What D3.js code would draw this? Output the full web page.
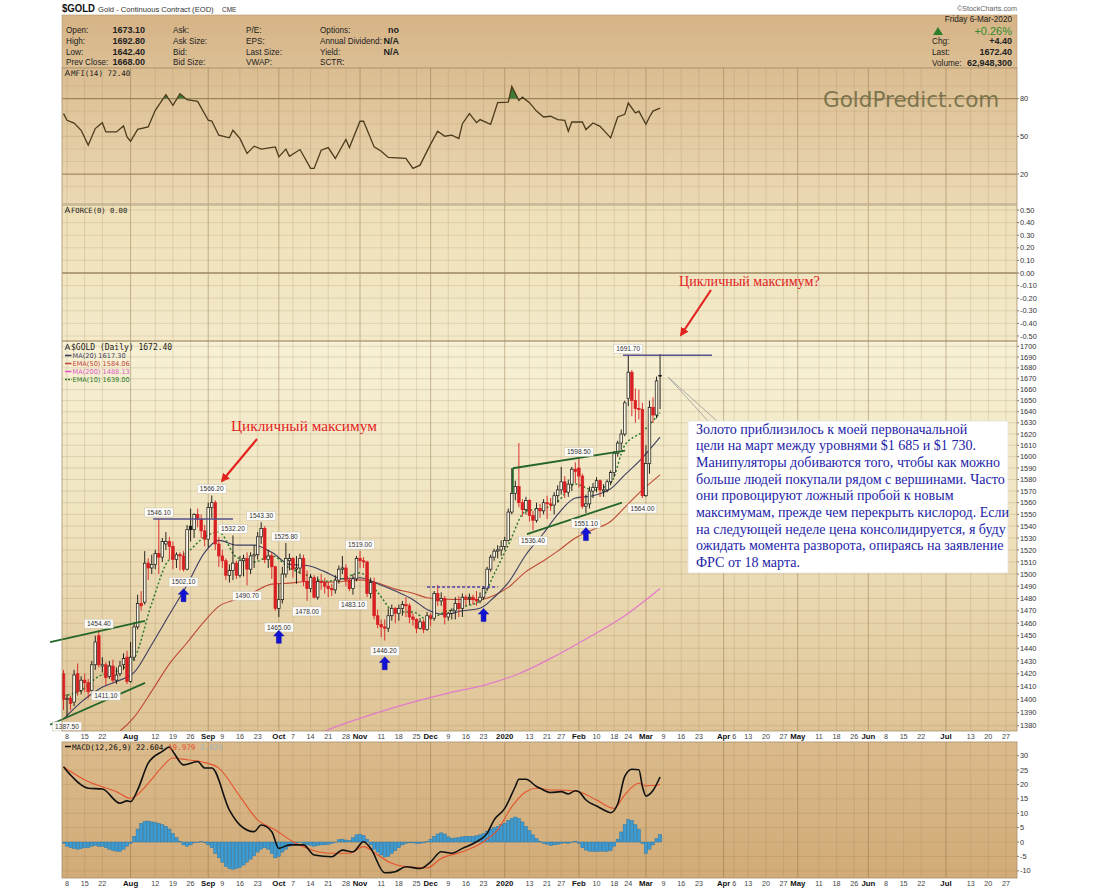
<!DOCTYPE html>
<html><head><meta charset="utf-8">
<script src="https://cdn.jsdelivr.net/npm/d3@7/dist/d3.min.js"></script>
<style>
html,body{margin:0;padding:0;background:#fff;}
svg{display:block;}
</style></head><body>
<svg id="chart" width="1100" height="890" font-family="Liberation Sans, Arial, sans-serif"></svg>
<script>
// ================= DATA =================
const holidays = ["2019-07-04","2019-09-02","2019-11-28","2019-12-25","2020-01-01","2020-01-20","2020-02-17","2020-04-10","2020-05-25","2020-07-03"];
const firstDay = "2019-07-05", lastAxisDay = "2020-07-31", axisEndDay = "2020-07-27";

const opens = [1420,1400,1401,1398,1420,1407,1415,1413,1407,1427,
 1450,1426,1427,1418,1426,1415,1420,1427,1433,1414,
 1433,1457,1476,1477,1509,1505,1508,1517,1514,1525,
 1527,1523,1512,1516,1515,1504,1540,1537,1550,1546,
 1536,1529,1556,1560,1525,1515,1511,1499,1503,1509,
 1499,1511,1513,1504,1515,1516,1531,1538,1512,1515,
 1506,1472,1479,1500,1511,1513,1504,1505,1513,1494,
 1488,1497,1481,1494,1493,1490,1488,1487,1495,1504,
 1505,1495,1488,1496,1513,1511,1510,1484,1493,1466,
 1459,1457,1456,1466,1472,1468,1472,1475,1474,1465,
 1463,1456,1461,1455,1466,1464,1484,1478,1480,1465,
 1468,1470,1476,1472,1481,1480,1481,1479,1478,1481,
 1488,1504,1514,1519,1520,1523,1528,1552,1568,1574,
 1560,1554,1562,1549,1545,1555,1553,1560,1559,1558,
 1566,1571,1578,1569,1576,1589,1590,1583,1557,1559,
 1570,1573,1579,1570,1571,1578,1586,1603,1612,1620,
 1652,1676,1650,1643,1642,1566,1594,1644,1637,1673.1];
const highs = [1423,1404,1403,1423,1428,1418,1420,1416,1430,1450,
 1454.4,1433,1429,1430,1431,1425,1430,1436,1438,1445,
 1461,1483,1486,1519,1513,1516,1520,1546.1,1530,1535,
 1531,1527,1518,1518,1519,1541,1555,1551,1555,1550,
 1541,1560,1566.2,1562,1531,1520,1513,1508,1532.2,1511,
 1515,1516,1518,1518,1524,1535,1543.3,1540,1520,1518,
 1507,1492,1506,1525.8,1517,1514,1515,1517,1516,1503,
 1500,1499,1498,1500,1497,1494,1492,1499,1507,1515,
 1508,1497,1500,1515,1519,1514,1511,1497,1497,1471,
 1463,1463,1472,1475,1473,1475,1478,1481,1476,1468,
 1464,1464,1463,1469,1468,1486,1491,1485,1482,1469,
 1472,1481,1482,1484,1483,1484,1483,1486,1485,1490,
 1506,1516,1521,1524,1528,1531,1555,1590,1579,1612,
 1563,1565,1563,1553,1560,1559,1563,1566,1564,1569,
 1575,1591,1583,1580,1591,1595,1598.5,1585,1567,1574,
 1577,1582,1580,1576,1580,1588,1605,1614,1624,1650,
 1691.7,1678,1661,1660,1648,1610,1650,1653,1672,1692.8];
const lows = [1392,1387.5,1392,1395,1403,1404,1406,1401,1405,1423,
 1425,1421,1411.1,1416,1413,1412,1418,1423,1412,1413,
 1430,1455,1470,1475,1495,1500,1504,1500,1510,1520,
 1512,1504,1505,1503,1502.1,1503,1527,1530,1539,1530,
 1523,1522,1547,1520,1506,1505,1495,1493,1495,1496,
 1497,1498,1490.7,1500,1505,1512,1525,1509,1505,1496,
 1470,1465,1476,1497,1503,1497,1492,1500,1490,1478,
 1485,1480,1479,1487,1484,1481,1482,1484,1492,1500,
 1490,1486,1483.1,1494,1505,1505,1481,1480,1463,1456,
 1449,1446.2,1453,1462,1460,1462,1466,1465,1460,1458,
 1452,1455,1452,1454,1458,1462,1474,1474,1459,1462,
 1463,1463,1465,1465,1474,1475,1475,1474,1476,1479,
 1486,1502,1511,1513,1515,1520,1527,1550,1562,1556,
 1548,1550,1544,1536.4,1543,1547,1550,1546,1553,1550,
 1560,1567,1564,1565,1570,1577,1573,1555,1551.1,1555,
 1564,1569,1565,1565,1569,1575,1582,1600,1606,1618,
 1645,1636,1630,1633,1564,1565,1585,1630,1634,1642.4];
const closes = [1400,1401,1397,1419,1406,1415,1413,1406,1427,1445,
 1427,1427,1417,1426,1415,1419,1426,1432,1414,1433,
 1457,1476,1474,1509,1505,1508,1517,1514,1527,1527,
 1523,1512,1516,1515,1504,1537,1537,1550,1546,1536,
 1529,1556,1560,1525,1515,1511,1499,1503,1509,1499,
 1511,1513,1504,1515,1516,1531,1538,1512,1515,1506,
 1472,1479,1500,1513,1513,1504,1505,1513,1494,1488,
 1497,1481,1494,1493,1490,1488,1487,1495,1504,1505,
 1495,1488,1496,1513,1511,1510,1484,1493,1466,1459,
 1457,1456,1466,1472,1468,1472,1475,1474,1465,1463,
 1456,1461,1455,1466,1464,1484,1478,1480,1465,1468,
 1470,1476,1472,1481,1480,1481,1479,1478,1481,1488,
 1504,1514,1519,1520,1523,1528,1552,1568,1574,1560,
 1554,1562,1549,1545,1555,1553,1560,1559,1558,1566,
 1571,1578,1569,1576,1589,1587,1583,1557,1559,1570,
 1573,1579,1571,1571,1578,1586,1603,1612,1620,1648,
 1676,1650,1643,1642,1566,1594,1644,1637,1668,1672.4];

// moving averages (weekly readings)
const maDates = ["2019-07-05","2019-07-12","2019-07-19","2019-07-26","2019-08-02","2019-08-09","2019-08-16","2019-08-23","2019-08-30","2019-09-06","2019-09-13","2019-09-20","2019-09-27","2019-10-04","2019-10-11","2019-10-18","2019-10-25","2019-11-01","2019-11-08","2019-11-15","2019-11-22","2019-11-29","2019-12-06","2019-12-13","2019-12-20","2019-12-27","2020-01-03","2020-01-10","2020-01-17","2020-01-24","2020-01-31","2020-02-07","2020-02-14","2020-02-21","2020-02-28","2020-03-06"];
const ma20 = [1385,1398,1408,1414,1421,1443,1467,1491,1518,1528,1524,1524,1518,1508,1507,1502,1496,1497,1492,1486,1479,1471,1467,1470,1472,1481,1493,1516,1534,1550,1564,1566,1572,1584,1599,1617.3];
const ema50 = [1353,1361,1368,1374,1386.5,1406.5,1427.7,1444.4,1461.9,1473.6,1479.3,1485.3,1491.7,1492.5,1493.9,1493.3,1493.8,1495.2,1492.7,1487.6,1484.3,1480.6,1479.4,1479.2,1479.2,1482.5,1489,1502,1511,1519,1530,1537,1544,1556,1571,1584.06];
const ema10 = [1403,1407,1418,1422,1432,1476,1512,1518,1531,1535,1514,1510,1515,1505,1499,1494,1496,1501,1485,1469,1469,1463,1469,1473,1478,1500,1524,1553,1555,1561,1576,1571,1577,1610,1622,1639];
const ma200Dates = ["2019-10-10","2019-10-24","2019-11-08","2019-11-22","2019-12-09","2019-12-23","2020-01-08","2020-01-22","2020-02-06","2020-02-21","2020-03-06"];
const ma200 = [1369,1380,1390,1398,1405,1411,1420,1432,1449,1466,1488.13];

// MFI(14) readings (trading-day number from first bar, value)
const mfiDays = [0,1,3,5,7,9,11,12,15,17,18,19,21,24,26,29,31,33,35,38,41,42,44,47,48,50,52,54,56,60,61,63,64,67,70,71,73,75,77,80,81,84,85,88,90,92,97,99,101,104,106,108,110,112,113,115,117,118,121,123,126,127,129,130,132,134,136,138,140,142,143,144,147,148,150,152,155,157,159,160,162,163,165,166,167,169];
const mfiValues = [68.1,62.8,60.6,54.8,43,56.2,60.9,53.5,53.5,58.3,49.6,46.1,55.6,57.5,70.7,83.1,74.7,83.9,79.2,77.8,62.8,62.2,50.9,48.8,54.8,48.2,36.4,42.2,39.8,41.6,33.7,39.8,34.2,39.5,24.5,24.5,39,41.1,32.4,47.5,41.1,62,62,41.6,38.2,33.2,32.4,24.5,27.1,43.8,54.1,50.1,50.9,48.2,60.1,68.1,60.9,63.3,59.6,76.8,77.3,89.7,78.6,81.2,76.8,70.1,65.4,66,63.3,62.8,54.1,61.4,61.4,55.4,60.6,58,48.8,65.4,67.5,76.5,68.6,70.1,59.6,65.4,70.1,72.4];

// MACD(12,26,9)
const macdDays = [0,2,7,11,16,18,19,21,24,28,30,31,34,38,40,42,47,50,54,56,59,61,64,68,71,76,79,82,85,87,91,94,97,101,104,107,110,113,117,120,122,125,128,129,131,134,135,138,141,143,145,146,148,151,154,155,157,159,161,163,164,165,167,169];
const macdValues = [26.2,23.3,18.7,18.4,13.5,14.3,14.0,18.1,27.4,31.5,33,31.5,26.8,28,25.7,25.7,11.1,5.9,3.6,5.9,3.6,-2.2,-1,-1,-4.5,-5.1,-2.8,-3.4,0.1,-2.2,-10.7,-10.3,-8.6,-9.2,-6.9,-3.4,-3.9,-2.2,0.1,3,7.7,11.7,19.3,21.8,21.8,19.3,18.7,17.2,17.5,16.7,17.8,17.5,14.6,12.5,10.6,10.2,13.2,22.8,25.3,25.1,19.3,16,17.9,22.6];
const signalDays = [0,7,15,19,24,28,31,35,40,44,50,55,60,65,69,75,81,85,89,93,97,103,107,113,119,123,127,131,134,138,141,146,151,156,159,163,165,169];
const signalValues = [26.1,21,17.5,15.2,20.4,26.2,29.2,28.6,27.6,25.7,15.8,7.7,4.2,0.1,-2.2,-3.9,-3.9,-1.6,-4.5,-7.4,-8.6,-9,-5.7,-3.4,0.1,4.2,12.3,17.5,18.7,18.1,18.1,17.5,14.6,11.7,16.4,20.4,19.5,20.0];
const histValues = [-0.5,-1.5,-2,-2.3,-2.5,-2.3,-2,-2,-1.5,-1.2,
 -1.5,-1.5,-2,-2.5,-3,-3.2,-3.3,-2.5,-1.5,-0.5,
 2,4.5,6.5,7.2,7.3,7,6.8,6.5,6,5.5,
 4.5,3,1.5,0.3,-1,-1.5,-1,-0.3,0,0.2,
 -0.3,-1,-2,-4,-5.5,-7,-8.5,-9.3,-9.5,-9.2,
 -8.8,-8,-7,-6,-4.8,-3.5,-2.5,-2,-2.5,-4,
 -5.5,-5,-3.5,-2.5,-1.5,-1,-0.5,0,-0.5,-1,
 -1.2,-1.5,-1.2,-1,-1,-0.8,-0.5,0,0.8,1,
 0.7,0.5,1.5,2.5,2.7,2.3,1,-1,-2.5,-3.5,
 -4.5,-5.2,-5,-4,-3,-2,-1,-0.5,-0.3,-0.3,
 -0.5,-0.5,-0.3,0.2,1,2,2.8,3.2,2.8,1.8,
 1.3,1.4,1.5,1.8,2,2,2,2.2,2.5,3,
 3.8,4.5,5,5.5,6,6.5,7.5,8.2,8.7,8.2,
 7,5.5,4,2.5,1.2,0.3,-0.5,-0.8,-1.2,-1,
 -0.8,-0.5,-0.3,-0.5,0,0.3,-0.5,-2,-2.8,-3.2,
 -3.3,-3.3,-3.2,-3.2,-3.3,-3,-1.5,1,3.5,6,
 7.8,7.5,6,4.5,-0.5,-4,-2.5,-1,1.2,2.6];

// axis ticks
const tickDates = ["2019-07-08","2019-07-15","2019-07-22","2019-08-01","2019-08-12","2019-08-19","2019-08-26","2019-09-03","2019-09-09","2019-09-16","2019-09-23","2019-10-01","2019-10-07","2019-10-14","2019-10-21","2019-10-28","2019-11-01","2019-11-11","2019-11-18","2019-11-25","2019-12-02","2019-12-09","2019-12-16","2019-12-23","2020-01-02","2020-01-13","2020-01-21","2020-01-27","2020-02-03","2020-02-10","2020-02-18","2020-02-24","2020-03-02","2020-03-09","2020-03-16","2020-03-23","2020-04-01","2020-04-06","2020-04-13","2020-04-20","2020-04-27","2020-05-01","2020-05-11","2020-05-18","2020-05-26","2020-06-01","2020-06-08","2020-06-15","2020-06-22","2020-07-01","2020-07-13","2020-07-20","2020-07-27"];
const tickTexts = ["8","15","22","Aug","12","19","26","Sep","9","16","23","Oct","7","14","21","28","Nov","11","18","25","Dec","9","16","23","2020","13","21","27","Feb","10","18","24","Mar","9","16","23","Apr","6","13","20","27","May","11","18","26","Jun","8","15","22","Jul","13","20","27"];
const priceTicks = d3.range(1380, 1701, 10);
const mfiTicks = [80, 50, 20];
const forceTicks = [0.5,0.4,0.3,0.2,0.1,0,-0.1,-0.2,-0.3,-0.4,-0.5];
const macdTicks = [30,25,20,15,10,5,0,-5,-10];

// annotations
const priceLabelDays = [1,12,10,34,27,42,48,56,52,63,61,69,82,84,91,133,146,148,164,160];
const priceLabelValues = [1387.5,1411.1,1454.4,1502.1,1546.1,1566.2,1532.2,1543.3,1490.7,1525.8,1465,1478,1483.1,1519,1446.2,1536.4,1598.5,1551.1,1564,1691.7];
const priceLabelSide = ["below","below","above","below","above","above","above","above","below","above","below","below","below","above","below","below","above","below","below","above"];
const arrowDays = [34,61,91,119,148];
const arrowPrices = [1482.7,1449.2,1428.2,1466.7,1533.3];
// trend lines: [day1, price1, day2, price2]
const greenLines = [[-3.8,1444.9,23.1,1461.8],[-3.8,1380.7,23.1,1412.9],[127.3,1589.8,159.1,1605.2],[127.3,1589.8,127.3,1568.4],[131.3,1533.3,158.2,1560]];
const navyLines = [[25.4,1546.1,48,1546.1],[158.5,1691.7,183.7,1691.7]];
const navyDashed = [[103,1489.3,123,1489.3]];

const headerRows = [["Open:","1673.10","Ask:","P/E:","Options:","no"],["High:","1692.80","Ask Size:","EPS:","Annual Dividend:","N/A"],["Low:","1642.40","Bid:","Last Size:","Yield:","N/A"],["Prev Close:","1668.00","Bid Size:","VWAP:","SCTR:",""]];
const noteLines = ["Золото приблизилось к моей первоначальной","цели на март между уровнями $1 685 и $1 730.","Манипуляторы добиваются того, чтобы как можно","больше людей покупали рядом с вершинами. Часто","они провоцируют ложный пробой к новым","максимумам, прежде чем перекрыть кислород. Если","на следующей неделе цена консолидируется, я буду","ожидать момента разворота, опираясь на заявление","ФРС от 18 марта."];

// ================= CHART =================
const SERIF = "Liberation Serif, 'Times New Roman', serif";
const MONO = "DejaVu Sans Mono, monospace";
const svg = d3.select("#chart");
const PL = 62, PR = 1017;
const P = {mfi:[68,204], force:[205,341], main:[341,731], macd:[742,878]};

// trading calendar
const hol = new Set(holidays);
const days = [];
for (let d = new Date(firstDay+"T00:00:00Z"); d <= new Date(lastAxisDay+"T00:00:00Z"); d.setUTCDate(d.getUTCDate()+1)) {
  const wd = d.getUTCDay(), s = d.toISOString().slice(0,10);
  if (wd===0 || wd===6 || hol.has(s)) continue;
  days.push(s);
}
const dayIndex = new Map(days.map((s,i)=>[s,i]));
const x = d3.scaleLinear().domain([0, dayIndex.get(axisEndDay)]).range([63.5, 1006]);
const y = d3.scaleLog().domain([1376, 1705]).range([P.main[1], P.main[0]]);
const yM = d3.scaleLinear().domain([0,100]).range([199.2, 73.5]);
const yF = d3.scaleLinear().domain([-0.5,0.5]).range([336, 210]);
const yD = d3.scaleLinear().domain([-10,30]).range([870.8, 755.7]);

const defs = svg.append("defs");
function grad(id, stops){
  const g = defs.append("linearGradient").attr("id",id).attr("x1",0).attr("y1",0).attr("x2",0).attr("y2",1);
  stops.forEach(([o,c])=>g.append("stop").attr("offset",o).attr("stop-color",c));
}
grad("gHeader",[[0,"#d5b385"],[1,"#dcbf95"]]);
grad("gMfi",[[0,"#dbbd91"],[1,"#ebd9b4"]]);
grad("gForce",[[0,"#eee0b8"],[1,"#f4eaca"]]);
grad("gMain",[[0,"#f7f1d5"],[0.45,"#f0e4c0"],[1,"#dec395"]]);
grad("gMacd",[[0,"#dbbb8c"],[1,"#d1ab78"]]);
Object.entries(P).forEach(([k,[t,b]])=>{
  defs.append("clipPath").attr("id","clip_"+k).append("rect").attr("x",PL).attr("y",t).attr("width",PR-PL).attr("height",b-t);
});
const mk = defs.append("marker").attr("id","redArrow").attr("viewBox","0 0 10 10").attr("refX",8).attr("refY",5)
  .attr("markerWidth",4).attr("markerHeight",4).attr("orient","auto");
mk.append("path").attr("d","M0,0 L10,5 L0,10 z").attr("fill","#e3231f");

// ---- titles / header ----
svg.append("text").attr("x",62).attr("y",12).attr("font-size",10.5).attr("font-weight","bold").attr("fill","#111")
  .attr("textLength",33).attr("lengthAdjust","spacingAndGlyphs").text("$GOLD");
svg.append("text").attr("x",98).attr("y",12).attr("font-size",7.6).attr("fill","#333").text("Gold - Continuous Contract (EOD)");
svg.append("text").attr("x",222).attr("y",12).attr("font-size",6.5).attr("fill","#333").text("CME");
svg.append("text").attr("x",1017).attr("y",11).attr("text-anchor","end").attr("font-size",7.2).attr("fill","#666").text("©StockCharts.com");

svg.append("rect").attr("x",PL).attr("y",15).attr("width",PR-PL).attr("height",53).attr("fill","url(#gHeader)").attr("stroke","#b59a72").attr("stroke-width",0.6);
const hy = [33,43.7,54.7,65.2];
headerRows.forEach((r,i)=>{
  const t = (xx,s,o={})=>svg.append("text").attr("x",xx).attr("y",hy[i]).attr("font-size",o.fs||8.2).attr("font-weight",o.b?"bold":"normal").attr("text-anchor",o.a||"start").attr("fill","#222").text(s);
  t(66,r[0]); t(145,r[1],{b:true,fs:9,a:"end"}); t(173,r[2]); t(246,r[3]); t(320,r[4]); t(399,r[5],{b:true,fs:9,a:"end"});
});
svg.append("text").attr("x",1012).attr("y",21.5).attr("text-anchor","end").attr("font-size",8.2).attr("fill","#222").text("Friday  6-Mar-2020");
svg.append("path").attr("d","M933,35 L938,27 L943,35 Z").attr("fill","#2e7d2e");
svg.append("text").attr("x",1012).attr("y",35).attr("text-anchor","end").attr("font-size",11).attr("fill","#2f8a2f").text("+0.26%");
[["Chg:","+4.40",44],["Last:","1672.40",55],["Volume:","62,948,300",65.5]].forEach(([a,b,yy])=>{
  svg.append("text").attr("x",932).attr("y",yy).attr("font-size",8.2).attr("fill","#222").text(a);
  svg.append("text").attr("x",1012).attr("y",yy).attr("text-anchor","end").attr("font-size",9).attr("font-weight","bold").attr("fill","#222").text(b);
});

// ---- panel backgrounds ----
svg.append("rect").attr("x",PL).attr("y",P.mfi[0]).attr("width",PR-PL).attr("height",P.mfi[1]-P.mfi[0]).attr("fill","url(#gMfi)");
svg.append("rect").attr("x",PL).attr("y",P.force[0]).attr("width",PR-PL).attr("height",P.force[1]-P.force[0]).attr("fill","url(#gForce)");
svg.append("rect").attr("x",PL).attr("y",P.main[0]).attr("width",PR-PL).attr("height",P.main[1]-P.main[0]).attr("fill","url(#gMain)");
svg.append("rect").attr("x",PL).attr("y",P.macd[0]).attr("width",PR-PL).attr("height",P.macd[1]-P.macd[0]).attr("fill","url(#gMacd)");

// ---- grids ----
const grid = svg.append("g");
const tickIdx = tickDates.map(d=>dayIndex.get(d));
const isMonth = t => isNaN(+t) || t==="2020";
Object.values(P).forEach(([t,b])=>{
  tickIdx.forEach((ti,k)=>{
    grid.append("line").attr("x1",x(ti)).attr("x2",x(ti)).attr("y1",t).attr("y2",b)
      .attr("stroke", isMonth(tickTexts[k]) ? "rgba(130,100,60,0.42)" : "rgba(150,120,80,0.2)").attr("stroke-width",1);
  });
});
priceTicks.forEach(v=>grid.append("line").attr("x1",PL).attr("x2",PR).attr("y1",y(v)).attr("y2",y(v)).attr("stroke","rgba(165,135,90,0.25)"));
[10,30,40,60,70,90].forEach(v=>grid.append("line").attr("x1",PL).attr("x2",PR).attr("y1",yM(v)).attr("y2",yM(v)).attr("stroke","rgba(165,135,90,0.18)"));
[50].forEach(v=>grid.append("line").attr("x1",PL).attr("x2",PR).attr("y1",yM(v)).attr("y2",yM(v)).attr("stroke","rgba(165,135,90,0.3)"));
[80,20].forEach(v=>grid.append("line").attr("x1",PL).attr("x2",PR).attr("y1",yM(v)).attr("y2",yM(v)).attr("stroke","#a7885f").attr("stroke-width",1.3));
forceTicks.forEach(v=>grid.append("line").attr("x1",PL).attr("x2",PR).attr("y1",yF(v)).attr("y2",yF(v)).attr("stroke", v===0?"#9c8660":"rgba(165,135,90,0.22)").attr("stroke-width", v===0?1.3:1));
macdTicks.forEach(v=>grid.append("line").attr("x1",PL).attr("x2",PR).attr("y1",yD(v)).attr("y2",yD(v)).attr("stroke","rgba(150,115,70,0.2)"));

// ---- right axis labels ----
const axisG = svg.append("g").attr("font-size",7.4).attr("fill","#333");
function rlab(yy, s){
  axisG.append("line").attr("x1",PR).attr("x2",PR+2).attr("y1",yy).attr("y2",yy).attr("stroke","#777");
  axisG.append("text").attr("x",PR+3).attr("y",yy).attr("dy","0.35em").text(s);
}
priceTicks.forEach(v=>rlab(y(v), String(v)));
mfiTicks.forEach(v=>rlab(yM(v), String(v)));
forceTicks.forEach(v=>rlab(yF(v), v.toFixed(2)));
macdTicks.forEach(v=>rlab(yD(v), String(v)));

// ---- date labels ----
[[731,742,738.8],[878,890,886]].forEach(([t,b,yy])=>{
  svg.append("rect").attr("x",PL).attr("y",t).attr("width",PR-PL).attr("height",b-t).attr("fill","#fff");
  tickIdx.forEach((ti,k)=>{
    const m = isMonth(tickTexts[k]);
    svg.append("text").attr("x",x(ti)).attr("y",yy).attr("text-anchor","middle")
      .attr("font-size", m?7.8:7.2).attr("font-weight", m?"bold":"normal").attr("fill", m?"#111":"#444").text(tickTexts[k]);
  });
});

// ---- MFI ----
const mfiPts = mfiDays.map((d,i)=>[x(d), yM(mfiValues[i])]);
const mfiG = svg.append("g").attr("clip-path","url(#clip_mfi)");
defs.append("clipPath").attr("id","clipAbove80").append("rect").attr("x",PL).attr("y",P.mfi[0]).attr("width",PR-PL).attr("height",yM(80)-P.mfi[0]);
mfiG.append("path").attr("clip-path","url(#clipAbove80)")
  .attr("d", d3.area().x(p=>p[0]).y0(yM(80)).y1(p=>p[1])(mfiPts)).attr("fill","#3f7a36");
mfiG.append("path").attr("d", d3.line()(mfiPts)).attr("fill","none").attr("stroke","#4a3b1c").attr("stroke-width",1.3);
svg.append("path").attr("d","M65,76 L67.5,70 L70,76 M66,74 L69,74").attr("stroke","#333").attr("fill","none").attr("stroke-width",0.9);
svg.append("text").attr("x",71).attr("y",76).attr("font-family",MONO).attr("font-size",7.6).attr("fill","#222").text("MFI(14) 72.40");
svg.append("text").attr("x",823).attr("y",107).attr("font-family","DejaVu Sans, sans-serif").attr("font-size",21.5).attr("fill","#6f6b44").attr("fill-opacity",0.9).text("GoldPredict.com");

// ---- FORCE ----
svg.append("path").attr("d","M65,213 L67.5,207 L70,213 M66,211 L69,211").attr("stroke","#333").attr("fill","none").attr("stroke-width",0.9);
svg.append("text").attr("x",71).attr("y",213).attr("font-family",MONO).attr("font-size",7.2).attr("fill","#222").text("FORCE(0) 0.00");

// ---- MAIN: moving averages ----
const mainG = svg.append("g").attr("clip-path","url(#clip_main)");
const maX = maDates.map(d=>x(dayIndex.get(d)));
function maLine(vals, color, w, dash, xs){
  mainG.append("path").attr("d", d3.line().curve(d3.curveMonotoneX)(vals.map((v,i)=>[xs[i], y(v)])))
    .attr("fill","none").attr("stroke",color).attr("stroke-width",w).attr("stroke-dasharray",dash||null);
}
maLine(ma200, "#e27bc9", 1.3, null, ma200Dates.map(d=>x(dayIndex.get(d))));
maLine(ema50, "#bf4a36", 1.1, null, maX);
maLine(ma20, "#3e3e62", 1.1, null, maX);
maLine(ema10, "#2a7a2a", 1.5, "2,2.2", maX);

navyDashed.forEach(([d1,p1,d2,p2])=>svg.append("line").attr("x1",x(d1)).attr("y1",y(p1)).attr("x2",x(d2)).attr("y2",y(p2)).attr("stroke","#4b3fa6").attr("stroke-width",1.5).attr("stroke-dasharray","3,2"));

// ---- candles ----
const cG = mainG.append("g");
closes.forEach((c,i)=>{
  const o=opens[i], h=highs[i], l=lows[i];
  const up = i===0 ? c>=o : c>=closes[i-1];
  const col = up ? "#111" : "#d81f22";
  const hollow = c>o;
  const cx = x(i);
  cG.append("line").attr("x1",cx).attr("x2",cx).attr("y1",y(h)).attr("y2",y(l)).attr("stroke",col).attr("stroke-width",0.9);
  const yt=y(Math.max(o,c)), yb=y(Math.min(o,c));
  cG.append("rect").attr("x",cx-1.3).attr("width",2.6).attr("y",yt).attr("height",Math.max(0.8,yb-yt))
    .attr("fill",hollow?"#fbf6e3":col).attr("stroke",col).attr("stroke-width",0.7);
});

navyLines.forEach(([d1,p1,d2,p2])=>svg.append("line").attr("x1",x(d1)).attr("y1",y(p1)).attr("x2",x(d2)).attr("y2",y(p2)).attr("stroke","#56508e").attr("stroke-width",1.4));
greenLines.forEach(([d1,p1,d2,p2])=>svg.append("line").attr("x1",x(d1)).attr("y1",y(p1)).attr("x2",x(d2)).attr("y2",y(p2)).attr("stroke","#24662a").attr("stroke-width",1.8));

// price labels
priceLabelDays.forEach((d,i)=>{
  const v = priceLabelValues[i];
  const cy = priceLabelSide[i]==="above" ? y(v)-6.5 : y(v)+10.5;
  const s = v.toFixed(2), w = s.length*3.55+4;
  svg.append("rect").attr("x",x(d)-w/2).attr("y",cy-4.5).attr("width",w).attr("height",9).attr("fill","#fff").attr("fill-opacity",0.92).attr("stroke","#c9c2b0").attr("stroke-width",0.5);
  svg.append("text").attr("x",x(d)).attr("y",cy).attr("dy","0.35em").attr("text-anchor","middle").attr("font-size",6.6).attr("fill","#333").text(s);
});

// blue arrows
arrowDays.forEach((d,i)=>{
  const cx=x(d), cy=y(arrowPrices[i]);
  svg.append("path").attr("transform",`translate(${cx},${cy})`).attr("d","M0,-6.5 L5.2,-0.8 L2.4,-0.8 L2.4,6.5 L-2.4,6.5 L-2.4,-0.8 L-5.2,-0.8 Z").attr("fill","#1212d6").attr("stroke","#0a0a9a").attr("stroke-width",0.5);
});

// main legend
svg.append("path").attr("d","M65,350 L67.5,344 L70,350 M66,348 L69,348").attr("stroke","#333").attr("fill","none").attr("stroke-width",0.9);
svg.append("text").attr("x",71).attr("y",350).attr("font-family",MONO).attr("font-size",8).attr("fill","#222").text("$GOLD (Daily) 1672.40");
[["MA(20) 1617.30","#3e3e62",358,null],["EMA(50) 1584.06","#c0463a",366,null],["MA(200) 1488.13","#dc5cc4",374,null],["EMA(10) 1639.00","#2a7a2a",382,"2,1"]].forEach(([s,c,yy,dash])=>{
  svg.append("line").attr("x1",65).attr("x2",71.5).attr("y1",yy-2.5).attr("y2",yy-2.5).attr("stroke",c).attr("stroke-width",1.6).attr("stroke-dasharray",dash);
  svg.append("text").attr("x",72.5).attr("y",yy).attr("font-family","DejaVu Sans, sans-serif").attr("font-size",6.6).attr("fill",c).text(s);
});

// callout pointer lines
svg.append("line").attr("x1",668).attr("y1",377).attr("x2",708).attr("y2",421).attr("stroke","#9a9a9a").attr("stroke-width",0.8);
svg.append("line").attr("x1",668).attr("y1",377).attr("x2",717).attr("y2",421).attr("stroke","#9a9a9a").attr("stroke-width",0.8);

// note box
svg.append("rect").attr("x",688).attr("y",421).attr("width",320).attr("height",152).attr("fill","#fff").attr("stroke","#e6e2da").attr("stroke-width",0.8);
const nt = svg.append("text").attr("font-family",SERIF).attr("font-size",14.05).attr("fill","#2323a8");
noteLines.forEach((s,i)=>nt.append("tspan").attr("x",696).attr("y",433.5+i*16.67).text(s));

// red annotations
svg.append("text").attr("x",231).attr("y",431).attr("font-family",SERIF).attr("font-size",15.3).attr("fill","#e3231f").text("Цикличный максимум");
svg.append("line").attr("x1",257).attr("y1",439).attr("x2",222).attr("y2",481).attr("stroke","#e3231f").attr("stroke-width",2.2).attr("marker-end","url(#redArrow)");
svg.append("text").attr("x",679).attr("y",286).attr("font-family",SERIF).attr("font-size",14.1).attr("fill","#e3231f").text("Цикличный максимум?");
svg.append("line").attr("x1",711).attr("y1",290).attr("x2",681).attr("y2",335).attr("stroke","#e3231f").attr("stroke-width",2.2).attr("marker-end","url(#redArrow)");

// ---- MACD ----
const macdG = svg.append("g").attr("clip-path","url(#clip_macd)");
histValues.forEach((v,i)=>{
  const y0=yD(0), y1=yD(v);
  macdG.append("rect").attr("x",x(i)-1.6).attr("width",3.2).attr("y",Math.min(y0,y1)).attr("height",Math.max(0.5,Math.abs(y1-y0)))
    .attr("fill","#3d9bd3").attr("stroke","#2a6e98").attr("stroke-width",0.4);
});
macdG.append("path").attr("d", d3.line().curve(d3.curveMonotoneX)(signalDays.map((d,i)=>[x(d), yD(signalValues[i])])))
  .attr("fill","none").attr("stroke","#e5532f").attr("stroke-width",1.1);
macdG.append("path").attr("d", d3.line().curve(d3.curveMonotoneX)(macdDays.map((d,i)=>[x(d), yD(macdValues[i])])))
  .attr("fill","none").attr("stroke","#111").attr("stroke-width",1.6);
svg.append("line").attr("x1",65).attr("x2",71).attr("y1",746.5).attr("y2",746.5).attr("stroke","#111").attr("stroke-width",1.5);
const mt = svg.append("text").attr("x",72).attr("y",749.5).attr("font-family",MONO).attr("font-size",7.6);
mt.append("tspan").attr("fill","#111").text("MACD(12,26,9) 22.604");
mt.append("tspan").attr("fill","#e5532f").text(" 19.979");
mt.append("tspan").attr("fill","#9fb2bd").text(" 2.625");

// panel borders
Object.values(P).forEach(([t,b])=>svg.append("rect").attr("x",PL).attr("y",t).attr("width",PR-PL).attr("height",b-t).attr("fill","none").attr("stroke","#a8916b").attr("stroke-width",0.8));
</script>
</body></html>
